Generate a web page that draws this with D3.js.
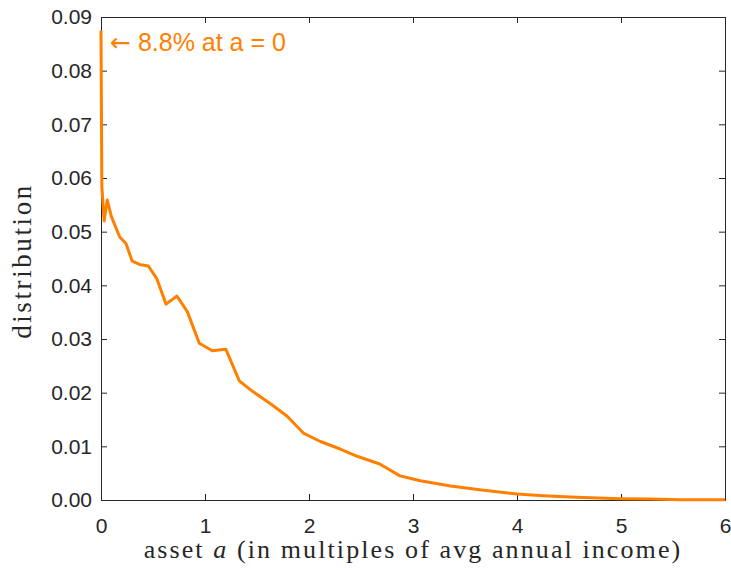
<!DOCTYPE html>
<html>
<head>
<meta charset="utf-8">
<script src="https://cdn.jsdelivr.net/npm/d3@7"></script>
<style>
  body { margin: 0; background: #fff; }
  svg { display: block; }
</style>
</head>
<body>
<svg id="chart" width="731" height="570"></svg>
<script>
// asset a (multiples of avg annual income) and distribution values
const assetA = [0, 0.008, 0.03, 0.06, 0.1, 0.18, 0.24, 0.30, 0.37, 0.455, 0.535, 0.625, 0.73, 0.83,
  0.945, 1.07, 1.20, 1.33, 1.46, 1.64, 1.79, 1.95, 2.11, 2.30, 2.47, 2.68, 2.875, 3.07, 3.36,
  3.64, 4.0, 4.25, 4.57, 4.99, 5.28, 5.57, 6.0];
const dist = [0.0875, 0.0585, 0.052, 0.0559, 0.0528, 0.049, 0.0478, 0.0445, 0.0439, 0.0436, 0.0413,
  0.0365, 0.038, 0.0351, 0.0292, 0.0278, 0.0281, 0.0222, 0.0202, 0.0178, 0.0156, 0.0124, 0.0109,
  0.0095, 0.0081, 0.0067, 0.0045, 0.0036, 0.0026, 0.0019, 0.0011, 0.0008, 0.0005, 0.00025,
  0.0002, 0.00005, 0.00003];
const xTicks = [0, 1, 2, 3, 4, 5, 6];
const yTicks = [0, 0.01, 0.02, 0.03, 0.04, 0.05, 0.06, 0.07, 0.08, 0.09];

const margin = { top: 17, right: 6, bottom: 70, left: 101 };
const width = 731, height = 570;
const innerWidth = width - margin.left - margin.right;
const innerHeight = height - margin.top - margin.bottom;
const axisColor = "#262626";
const lineColor = "#ff8000";
const sans = "'Liberation Sans', Arial, sans-serif";
const serif = "'Liberation Serif', 'DejaVu Serif', serif";

const svg = d3.select("#chart");
const g = svg.append("g").attr("transform", `translate(${margin.left},${margin.top})`);

const x = d3.scaleLinear().domain([0, 6]).range([0, innerWidth]);
const y = d3.scaleLinear().domain([0, 0.09]).range([innerHeight, 0]);

// box with inward ticks on all four sides
const styleAxis = sel => {
  sel.select(".domain").attr("stroke", axisColor);
  sel.selectAll(".tick line").attr("stroke", axisColor);
  sel.selectAll("text").attr("fill", axisColor)
    .attr("font-family", sans).attr("font-size", 21);
};

g.append("g").attr("transform", `translate(0,${innerHeight})`)
  .call(d3.axisBottom(x).tickValues(xTicks).tickSize(-6).tickSizeOuter(0).tickPadding(18).tickFormat(d3.format("d")))
  .call(styleAxis);
g.append("g")
  .call(d3.axisTop(x).tickValues(xTicks).tickSize(-6).tickSizeOuter(0))
  .call(styleAxis)
  .call(a => a.selectAll("text").remove());
g.append("g")
  .call(d3.axisLeft(y).tickValues(yTicks).tickSize(-6).tickSizeOuter(0).tickPadding(9).tickFormat(d3.format(".2f")))
  .call(styleAxis);
g.append("g").attr("transform", `translate(${innerWidth},0)`)
  .call(d3.axisRight(y).tickValues(yTicks).tickSize(-6).tickSizeOuter(0))
  .call(styleAxis)
  .call(a => a.selectAll("text").remove());

// distribution line
const line = d3.line().x((d, i) => x(assetA[i])).y(d => y(d));
g.append("path")
  .datum(dist)
  .attr("fill", "none")
  .attr("stroke", lineColor)
  .attr("stroke-width", 3)
  .attr("stroke-linejoin", "round")
  .attr("d", line);

// annotation for the mass point at a = 0
const note = g.append("text")
  .attr("x", x(0) + 9)
  .attr("y", y(dist[0]) + 21)
  .attr("fill", lineColor)
  .attr("font-family", sans)
  .attr("font-size", 25);
note.append("tspan").attr("font-family", "'DejaVu Sans', sans-serif").text("\u2190");
note.append("tspan").text(" 8.8% at a = 0");

// axis labels
const xLabel = svg.append("text")
  .attr("x", margin.left + innerWidth / 2)
  .attr("y", 558)
  .attr("text-anchor", "middle")
  .attr("fill", axisColor)
  .attr("font-family", serif)
  .attr("font-size", 26)
  .attr("letter-spacing", 2.1);
xLabel.append("tspan").text("asset ");
xLabel.append("tspan").attr("font-style", "italic").text("a");
xLabel.append("tspan").text(" (in multiples of avg annual income)");

svg.append("text")
  .attr("transform", `translate(31,${margin.top + 244}) rotate(-90)`)
  .attr("text-anchor", "middle")
  .attr("fill", axisColor)
  .attr("font-family", serif)
  .attr("font-size", 27)
  .attr("letter-spacing", 2.6)
  .text("distribution");
</script>
</body>
</html>
